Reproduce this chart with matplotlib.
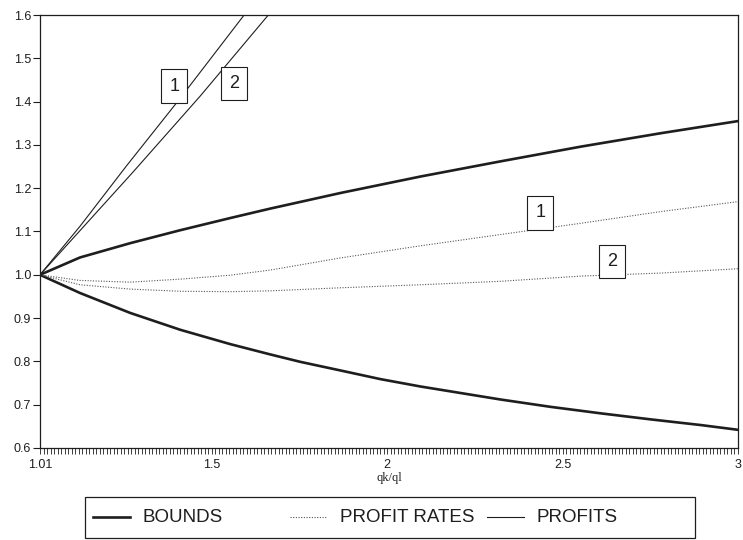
"""Bounds, profit rates and profits against qk/ql."""

import matplotlib
matplotlib.use("Agg")
import matplotlib.pyplot as plt
import matplotlib.ticker as mticker
from matplotlib.lines import Line2D
from matplotlib.patches import Rectangle

plt.rcParams.update({
    "font.family": ["Liberation Sans", "DejaVu Sans"],
    "font.size": 9,
})

INK = "#1e1e1e"

# bounds (thick solid)
upper_q = [1.01, 1.124, 1.267, 1.41, 1.552, 1.667, 1.867, 2.095, 2.323, 2.552, 2.78, 3.0]
upper_v = [1.0, 1.040, 1.073, 1.103, 1.131, 1.153, 1.189, 1.227, 1.262, 1.296, 1.327, 1.355]
lower_q = [1.01, 1.124, 1.267, 1.41, 1.552, 1.667, 1.752, 1.867, 1.981, 2.095, 2.209,
           2.323, 2.466, 2.609, 2.752, 2.894, 3.0]
lower_v = [1.0, 0.958, 0.912, 0.873, 0.840, 0.816, 0.799, 0.779, 0.759, 0.742, 0.727,
           0.712, 0.695, 0.680, 0.666, 0.653, 0.642]

# profit rates (dotted)
rate_q = [1.01, 1.124, 1.267, 1.41, 1.552, 1.667, 1.867, 2.095, 2.323, 2.552, 2.78, 3.0]
rate1_v = [1.0, 0.987, 0.983, 0.990, 0.999, 1.011, 1.039, 1.067, 1.093, 1.119, 1.146, 1.169]
rate2_v = [1.0, 0.977, 0.967, 0.962, 0.961, 0.963, 0.970, 0.977, 0.985, 0.997, 1.004, 1.014]

# profits (thin solid), leave the frame at the top
profit1_q = [1.01, 1.124, 1.257, 1.41, 1.592, 1.65]
profit1_v = [1.0, 1.112, 1.252, 1.408, 1.6, 1.662]
profit2_q = [1.01, 1.276, 1.467, 1.661, 1.72]
profit2_v = [1.0, 1.238, 1.413, 1.6, 1.657]

# curve labels: (text, q, value)
curve_labels = [("1", 1.393, 1.436), ("2", 1.564, 1.442),
                ("1", 2.436, 1.143), ("2", 2.640, 1.030)]

x_major = [1.01, 1.5, 2, 2.5, 3]
x_major_labels = ["1.01", "1.5", "2", "2.5", "3"]
y_ticks = [0.6, 0.7, 0.8, 0.9, 1.0, 1.1, 1.2, 1.3, 1.4, 1.5, 1.6]

legend_items = [("BOUNDS", dict(color=INK, lw=1.9, ls="-")),
                ("PROFIT RATES", dict(color="#555555", lw=0.8, ls=(0, (1, 1.4)))),
                ("PROFITS", dict(color=INK, lw=0.8, ls="-"))]

fig = plt.figure(figsize=(7.43, 5.4), dpi=100)
ax = fig.add_axes([40 / 743, 1 - 448 / 540, 698 / 743, 433 / 540])

ax.plot(upper_q, upper_v, color=INK, lw=1.9, solid_capstyle="round")
ax.plot(lower_q, lower_v, color=INK, lw=1.9, solid_capstyle="round")
ax.plot(rate_q, rate1_v, color="#555555", lw=0.8, ls=(0, (1, 1.4)))
ax.plot(rate_q, rate2_v, color="#555555", lw=0.8, ls=(0, (1, 1.4)))
ax.plot(profit1_q, profit1_v, color=INK, lw=0.8)
ax.plot(profit2_q, profit2_v, color=INK, lw=0.8)

for txt, q, v in curve_labels:
    ax.text(q, v, txt, ha="center", va="center", fontsize=13, color=INK, zorder=5,
            bbox=dict(boxstyle="square,pad=0.45", fc="white", ec=INK, lw=0.8))

ax.set_xlim(1.01, 3)
ax.set_ylim(0.6, 1.6)
ax.set_xticks(x_major)
ax.set_xticklabels(x_major_labels)
ax.xaxis.set_minor_locator(mticker.MultipleLocator(0.01))
ax.set_yticks(y_ticks)
ax.yaxis.set_major_formatter(mticker.FuncFormatter(lambda v, _: f"{v:.1f}"))
ax.tick_params(axis="x", which="both", direction="out", length=4, width=0.6,
               colors=INK, pad=4, labelsize=9)
ax.tick_params(axis="y", direction="out", length=5, width=0.8, colors=INK, pad=1.5,
               labelsize=9)
for sp in ax.spines.values():
    sp.set_color(INK)
    sp.set_linewidth(0.9)
ax.set_xlabel("qk/ql", family=["Liberation Serif", "DejaVu Serif"], fontsize=9,
              color=INK, labelpad=1)

# legend box under the axes, equal-width columns
fig.patches.append(Rectangle((85 / 743, 2 / 540), 610 / 743, 41 / 540,
                             transform=fig.transFigure, fill=False, ec=INK, lw=0.9))
y_leg = 1 - 517 / 540
for i, (label, style) in enumerate(legend_items):
    x0 = (93 + i * 197) / 743
    fig.lines.append(Line2D([x0, x0 + 37 / 743], [y_leg, y_leg],
                            transform=fig.transFigure, **style))
    fig.text(x0 + 50 / 743, y_leg, label, fontsize=13.5, va="center", color=INK)

fig.savefig("out.png", dpi=100)
